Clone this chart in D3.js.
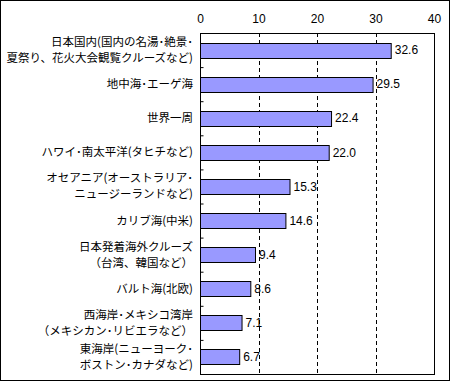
<!DOCTYPE html>
<html>
<head>
<meta charset="utf-8">
<script src="https://cdn.jsdelivr.net/npm/d3@7"></script>
<style>
  body { margin: 0; background: #fff; }
  svg { display: block; font-family: "Noto Sans CJK JP", sans-serif; }
</style>
</head>
<body>
<script>
// categories (line-split as in the original) and values in %
const categories = [
  ['日本国内(国内の名湯･絶景･', '夏祭り、花火大会観覧クルーズなど)'],
  ['地中海･エーゲ海'],
  ['世界一周'],
  ['ハワイ･南太平洋(タヒチなど)'],
  ['オセアニア(オーストラリア･', 'ニュージーランドなど)'],
  ['カリブ海(中米)'],
  ['日本発着海外クルーズ', '（台湾、韓国など）'],
  ['バルト海(北欧)'],
  ['西海岸･メキシコ湾岸', '（メキシカン･リビエラなど）'],
  ['東海岸(ニューヨーク･', 'ボストン･カナダなど)']
]
const values = [32.6, 29.5, 22.4, 22.0, 15.3, 14.6, 9.4, 8.6, 7.1, 6.7]
const xTicks = [0, 10, 20, 30, 40]

const width = 450
const height = 381
const margin = { top: 33, right: 16, bottom: 7, left: 200 }
const innerW = width - margin.left - margin.right
const innerH = height - margin.top - margin.bottom

const svg = d3.select('body').append('svg')
  .attr('width', width)
  .attr('height', height)

svg.append('rect')
  .attr('x', 0.5).attr('y', 0.5)
  .attr('width', width - 1).attr('height', height - 1)
  .attr('fill', '#fff')
  .attr('stroke', '#000')

const g = svg.append('g').attr('transform', 'translate(' + margin.left + ',' + margin.top + ')')

const x = d3.scaleLinear().domain([0, 40]).range([0, innerW])
const idx = d3.range(categories.length)
const y = d3.scaleBand().domain(idx).range([0, innerH]).paddingInner(0.56).paddingOuter(0.28)
const yEdge = d3.scaleLinear().domain([0, categories.length]).range([0, innerH])

// dashed grid
g.selectAll('line.grid')
  .data(xTicks.filter(d => d > 0 && d < 40))
  .enter().append('line')
  .attr('class', 'grid')
  .attr('x1', d => Math.round(x(d)) + 0.5)
  .attr('x2', d => Math.round(x(d)) + 0.5)
  .attr('y1', 0)
  .attr('y2', innerH)
  .attr('stroke', '#000')
  .attr('stroke-dasharray', '4,3')

// top axis labels
const xAxis = g.append('g')
  .call(d3.axisTop(x).tickValues(xTicks).tickSize(0).tickPadding(10).tickFormat(d3.format('d')))
xAxis.select('.domain').remove()
xAxis.selectAll('text')
  .attr('font-size', 12)
  .attr('font-family', '"Liberation Sans", sans-serif')
  .attr('fill', '#000')

// bars
g.selectAll('rect.bar')
  .data(values)
  .enter().append('rect')
  .attr('class', 'bar')
  .attr('x', 0.5)
  .attr('y', (d, i) => Math.round(y(i)) + 0.5)
  .attr('width', d => x(d))
  .attr('height', Math.round(y.bandwidth()))
  .attr('fill', '#9999ff')
  .attr('stroke', '#000')

// value labels
g.selectAll('text.val')
  .data(values)
  .enter().append('text')
  .attr('class', 'val')
  .attr('x', d => x(d) + 4)
  .attr('y', (d, i) => y(i) + y.bandwidth() / 2)
  .attr('dy', '0.35em')
  .attr('font-size', 12)
  .attr('font-family', '"Liberation Sans", sans-serif')
  .text(d => d.toFixed(1))

// plot frame
g.append('rect')
  .attr('x', 0.5).attr('y', 0.5)
  .attr('width', innerW).attr('height', innerH)
  .attr('fill', 'none')
  .attr('stroke', '#000')

// left axis: inward ticks at category boundaries
const yAxis = g.append('g')
  .call(d3.axisLeft(yEdge).tickValues(d3.range(1, categories.length)).tickSize(-3).tickFormat(''))
yAxis.select('.domain').remove()
yAxis.selectAll('line').attr('stroke', '#000').attr('transform', 'translate(0.5,0)')

// category labels
const lab = g.selectAll('text.cat')
  .data(categories)
  .enter().append('text')
  .attr('class', 'cat')
  .attr('text-anchor', 'end')
  .attr('font-size', 11.5)
  .attr('fill', '#000')
  .attr('transform', (d, i) => 'translate(-7,' + (y(i) + y.bandwidth() / 2) + ')')

lab.selectAll('tspan')
  .data(d => d.map((t, j) => ({ t, j, n: d.length })))
  .enter().append('tspan')
  .attr('x', 0)
  .attr('y', d => (d.j - (d.n - 1) / 2) * 16)
  .attr('dy', '0.35em')
  .text(d => d.t)
</script>
</body>
</html>
